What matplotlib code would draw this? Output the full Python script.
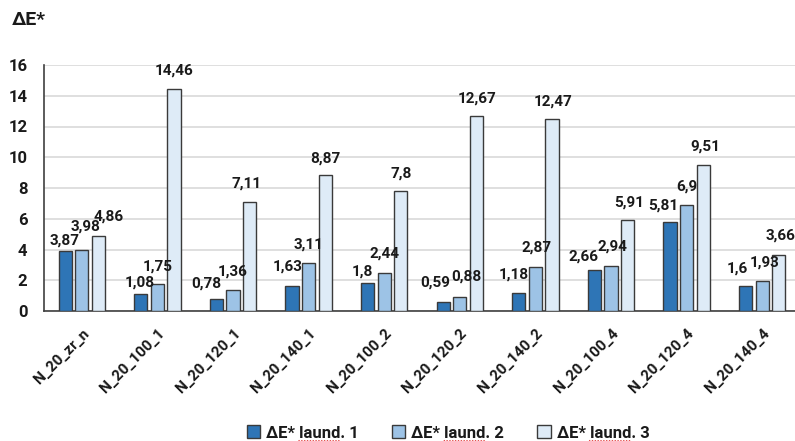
import matplotlib
matplotlib.use("Agg")
import matplotlib.pyplot as plt
import numpy as np

plt.rcParams['font.family'] = ['Roboto', 'DejaVu Sans']
plt.rcParams['font.weight'] = 'bold'

categories = ["N_20_zr_n", "N_20_100_1", "N_20_120_1", "N_20_140_1", "N_20_100_2",
              "N_20_120_2", "N_20_140_2", "N_20_100_4", "N_20_120_4", "N_20_140_4"]
laund1 = [3.87, 1.08, 0.78, 1.63, 1.80, 0.59, 1.18, 2.66, 5.81, 1.60]
laund2 = [3.98, 1.75, 1.36, 3.11, 2.44, 0.88, 2.87, 2.94, 6.90, 1.93]
laund3 = [4.86, 14.46, 7.11, 8.87, 7.80, 12.67, 12.47, 5.91, 9.51, 3.66]
series_names = ["ΔE* laund. 1", "ΔE* laund. 2", "ΔE* laund. 3"]
colors = ["#2E75B6", "#9DC3E6", "#DEEBF7"]
ink = "#1a1a1a"

# value-label nudges (dx, gap above bar) in pixels, per group and series,
# so neighbouring labels do not collide
label_nudge = [
    [(-1, 4), (4, 16), (10, 13)],
    [(-1, 5), (0, 11), (0, 11)],
    [(-10, 8), (0, 12), (-3, 11)],
    [(-4, 12), (0, 12), (0, 9)],
    [(-5, 5), (0, 13), (0, 11)],
    [(-8, 12), (7, 14), (1, 11)],
    [(-5, 11), (1, 12), (1, 11)],
    [(-11, 7), (1, 12), (1, 11)],
    [(-7, 9), (0, 11), (2, 11)],
    [(-8, 11), (2, 12), (2, 12)],
]

def fmt(v):
    s = ("%.2f" % v).rstrip("0").rstrip(".")
    return s.replace(".", ",")

fig = plt.figure(figsize=(7.95, 4.41), dpi=100)
ax = fig.add_axes([44/795, 1 - 311/441, 756/795, (311 - 65)/441])

x = np.arange(len(categories))
width = 0.175
step = 0.22
for i, (vals, name, col) in enumerate(zip([laund1, laund2, laund3], series_names, colors)):
    pos = x + (i - 1) * step
    bars = ax.bar(pos, vals, width, color=col, edgecolor="#3a3a3a", linewidth=1.0,
                  label=name, zorder=3)
    for g, (b, v) in enumerate(zip(bars, vals)):
        dx, dy = label_nudge[g][i]
        ax.annotate(fmt(v), (b.get_x() + b.get_width() / 2, v), xytext=(dx, dy),
                    textcoords="offset pixels", ha="center", va="bottom",
                    fontsize=11, fontweight="bold", color=ink, zorder=4)

ax.set_xlim(-0.5, len(categories) - 0.5)
ax.set_ylim(0, 16)
ax.set_yticks(np.arange(0, 17, 2))
ax.yaxis.grid(True, color="#d9d9d9", linewidth=1.2, zorder=0)
ax.set_axisbelow(True)
for s in ["top", "right"]:
    ax.spines[s].set_visible(False)
for s in ["left", "bottom"]:
    ax.spines[s].set_color("#404040")
    ax.spines[s].set_linewidth(1.2)
ax.tick_params(axis="y", length=0, labelsize=12, pad=12)
ax.tick_params(axis="x", length=0, labelsize=11, pad=11)
ax.set_xticks(x)
ax.set_xticklabels(categories, rotation=45, ha="right", rotation_mode="anchor")
for lbl in ax.get_xticklabels() + ax.get_yticklabels():
    lbl.set_fontweight("bold")
    lbl.set_color(ink)

fig.text(12/795, 1 - 20/441, "ΔE*", fontsize=14, fontweight="bold", va="center",
         ha="left", color=ink)

leg_fs = 12
leg = fig.legend(loc="center", bbox_to_anchor=(448/795, 1 - 433/441), ncol=3,
                 frameon=False, fontsize=leg_fs, handlelength=0.8, handleheight=0.8,
                 handletextpad=0.35, columnspacing=2.0, borderpad=0)
for t in leg.get_texts():
    t.set_fontweight("bold")
    t.set_color(ink)

# red wavy spell-check underline beneath "laund" in each legend entry
fig.canvas.draw()
renderer = fig.canvas.get_renderer()
for t in leg.get_texts():
    bb = t.get_window_extent(renderer)
    probe = fig.text(0, 0, "ΔE* ", fontsize=leg_fs, fontweight="bold")
    w0 = probe.get_window_extent(renderer).width
    probe2 = fig.text(0, 0, "ΔE* laund", fontsize=leg_fs, fontweight="bold")
    w1 = probe2.get_window_extent(renderer).width
    probe.remove()
    probe2.remove()
    xs = np.linspace(bb.x0 + w0, bb.x0 + w1, 30)
    ys = bb.y0 - 1 + 1.0 * np.where(np.arange(30) % 2 == 0, 1, -1)
    fig.add_artist(plt.Line2D(xs / fig.bbox.width, ys / fig.bbox.height,
                              color="#e03030", linewidth=0.8))

fig.savefig("out.png", dpi=100)
